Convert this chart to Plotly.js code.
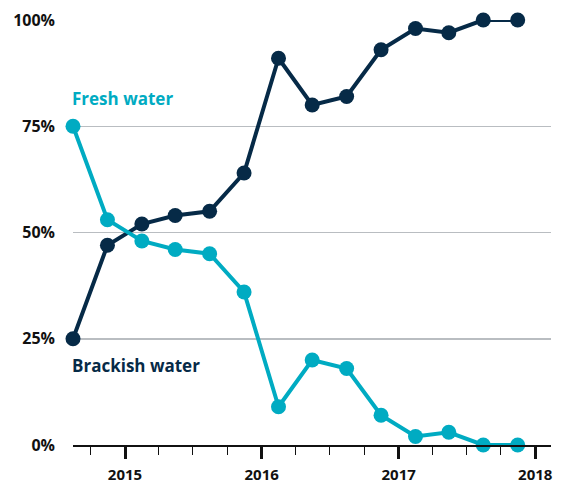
<!DOCTYPE html>
<html>
<head>
<meta charset="utf-8">
<script src="https://cdn.plot.ly/plotly-3.0.1.min.js"></script>
<style>html,body{margin:0;padding:0;background:#fff;}#chart{width:563px;height:485px;}</style>
</head>
<body>
<div id="chart"></div>
<script>
const dates = ['2014-08-15','2014-11-15','2015-02-15','2015-05-15','2015-08-15','2015-11-15','2016-02-15','2016-05-15','2016-08-15','2016-11-15','2017-02-15','2017-05-15','2017-08-15','2017-11-15'];
const freshWater = [75, 53, 48, 46, 45, 36, 9, 20, 18, 7, 2, 3, 0, 0];
const brackishWater = [25, 47, 52, 54, 55, 64, 91, 80, 82, 93, 98, 97, 100, 100];
const yTicks = [0, 25, 50, 75, 100];
const yTickText = ['0%', '25%', '50%', '75%', '100%'];
const seriesNames = ['Fresh water', 'Brackish water'];

const FRESH = '#00abc2';
const BRACK = '#062a47';
const FONT = 'Open Sans, Lato, sans-serif';

const traces = [
  {x: dates, y: brackishWater, name: seriesNames[1], mode: 'lines+markers', cliponaxis: false,
   line: {color: BRACK, width: 4}, marker: {color: BRACK, size: 15}},
  {x: dates, y: freshWater, name: seriesNames[0], mode: 'lines+markers', cliponaxis: false,
   line: {color: FRESH, width: 4}, marker: {color: FRESH, size: 15}}
];

const layout = {
  width: 563, height: 485,
  margin: {l: 73, r: 12, t: 20, b: 40},
  paper_bgcolor: '#fff', plot_bgcolor: '#fff',
  showlegend: false,
  font: {family: FONT, color: '#111', size: 14},
  xaxis: {
    type: 'date', range: ['2014-08-15', '2018-02-12'],
    tick0: '2015-01-01', dtick: 'M12', tickformat: '%Y',
    ticks: 'outside', ticklen: 12, tickwidth: 3, tickcolor: '#111',
    showline: true, linecolor: '#111', linewidth: 2,
    showgrid: false, zeroline: false,
    tickfont: {family: FONT, size: 15, color: '#111', weight: 'bold'},
    ticklabelstandoff: 3,
    minor: {dtick: 'M3', tick0: '2015-01-01', ticks: 'outside', ticklen: 8, tickwidth: 1.3, tickcolor: '#111', showgrid: false}
  },
  yaxis: {
    range: [0, 100], tickvals: yTicks, ticktext: yTickText,
    showgrid: true, gridcolor: '#b9bdc1', gridwidth: 1.5,
    zeroline: false, showline: false, ticks: '',
    tickfont: {family: FONT, size: 16, color: '#111', weight: 'bold'},
    ticklabelstandoff: 17
  },
  annotations: [
    {text: seriesNames[0], xref: 'paper', x: 0, xanchor: 'left', yref: 'y', y: 81.5, yanchor: 'middle',
     showarrow: false, xshift: -3, font: {family: FONT, size: 17, color: FRESH, weight: 'bold'}},
    {text: seriesNames[1], xref: 'paper', x: 0, xanchor: 'left', yref: 'y', y: 18.6, yanchor: 'middle',
     showarrow: false, xshift: -3, font: {family: FONT, size: 17, color: BRACK, weight: 'bold'}}
  ]
};

Plotly.newPlot('chart', traces, layout, {displayModeBar: false, staticPlot: true});
</script>
</body>
</html>
